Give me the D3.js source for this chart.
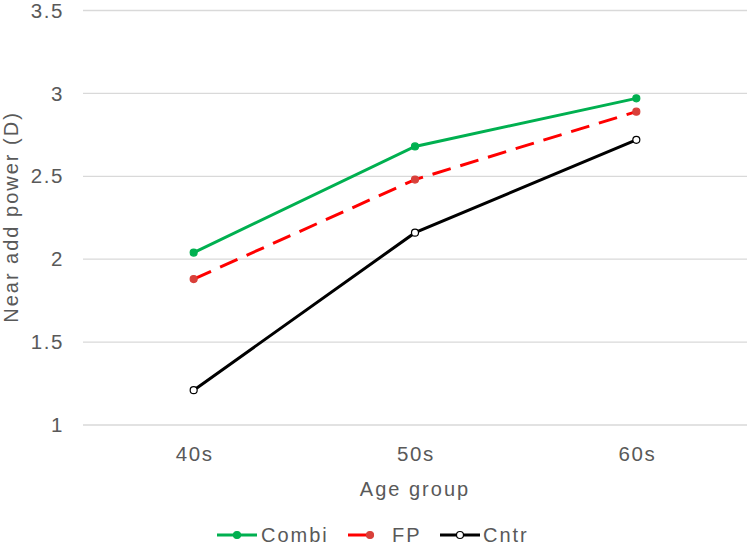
<!DOCTYPE html>
<meta charset="utf-8">
<style>
body { margin: 0; background: #fff; }
svg { font-family: Arial, "Liberation Sans", sans-serif; }
.grid line { stroke: #d9d9d9; stroke-width: 1.3px; }
.tick-label { fill: #595959; font-size: 20.5px; letter-spacing: 1.6px; }
.axis-title { fill: #595959; font-size: 20px; letter-spacing: 2px; }
.legend text { fill: #595959; font-size: 20px; letter-spacing: 2px; }
</style>
<body>
<script src="https://d3js.org/d3.v7.min.js"></script>
<script>
    // data
    var ageGroups = ["40s", "50s", "60s"];
    var combi = [2.04, 2.68, 2.97];
    var fp = [1.88, 2.48, 2.89];
    var cntr = [1.21, 2.16, 2.72];
    var yTicks = [1, 1.5, 2, 2.5, 3, 3.5];

    var series = [
        {name: "Combi", values: combi, color: "#00b050", dash: null, dot: "#00b050", dotStroke: "#00b050"},
        {name: "FP", values: fp, color: "#ff0000", dash: "19,10", dot: "#d9403a", dotStroke: "#d9403a"},
        {name: "Cntr", values: cntr, color: "#000000", dash: null, dot: "#ffffff", dotStroke: "#000000"}
    ];

    var width = 750, height = 546;
    var margin = {top: 10.5, right: 3, bottom: 121, left: 83};

    var svg = d3.select("body").append("svg")
        .attr("width", width)
        .attr("height", height);

    var x = d3.scaleBand()
        .domain(ageGroups)
        .range([margin.left, width - margin.right]);

    var y = d3.scaleLinear()
        .domain([1, 3.5])
        .range([height - margin.bottom, margin.top]);

    // gridlines
    svg.append("g").attr("class", "grid")
        .selectAll("line")
        .data(yTicks)
        .enter().append("line")
        .attr("x1", margin.left)
        .attr("x2", width - margin.right)
        .attr("y1", function (d) { return y(d); })
        .attr("y2", function (d) { return y(d); });

    // y tick labels
    svg.append("g")
        .selectAll("text")
        .data(yTicks)
        .enter().append("text")
        .attr("class", "tick-label")
        .attr("x", 64)
        .attr("y", function (d) { return y(d); })
        .attr("dy", "0.35em")
        .attr("text-anchor", "end")
        .text(function (d) { return d; });

    // x tick labels
    svg.append("g")
        .selectAll("text")
        .data(ageGroups)
        .enter().append("text")
        .attr("class", "tick-label")
        .attr("x", function (d) { return x(d) + x.bandwidth() / 2 + 1; })
        .attr("y", 461)
        .attr("text-anchor", "middle")
        .text(function (d) { return d; });

    // axis titles
    svg.append("text")
        .attr("class", "axis-title")
        .attr("x", x(ageGroups[1]) + x.bandwidth() / 2)
        .attr("y", 496)
        .attr("text-anchor", "middle")
        .text("Age group");

    svg.append("text")
        .attr("class", "axis-title")
        .attr("transform", "translate(18," + 217 + ") rotate(-90)")
        .attr("text-anchor", "middle")
        .text("Near add power (D)");

    var line = d3.line()
        .x(function (d, i) { return x(ageGroups[i]) + x.bandwidth() / 2; })
        .y(function (d) { return y(d); });

    var sg = svg.selectAll(".series")
        .data(series)
        .enter().append("g")
        .attr("class", "series");

    sg.append("path")
        .attr("d", function (d) { return line(d.values); })
        .attr("fill", "none")
        .attr("stroke", function (d) { return d.color; })
        .attr("stroke-width", 3)
        .attr("stroke-dasharray", function (d) { return d.dash; });

    sg.selectAll("circle")
        .data(function (d) { return d.values.map(function (v, i) { return {v: v, i: i, s: d}; }); })
        .enter().append("circle")
        .attr("cx", function (d) { return x(ageGroups[d.i]) + x.bandwidth() / 2; })
        .attr("cy", function (d) { return y(d.v); })
        .attr("r", 3.5)
        .attr("fill", function (d) { return d.s.dot; })
        .attr("stroke", function (d) { return d.s.dotStroke; })
        .attr("stroke-width", 1.2);

    // legend
    var legendPos = [
        {x1: 217, x2: 257, cx: 237, tx: 261},
        {x1: 348, x2: 372, cx: 370, tx: 392},
        {x1: 440, x2: 480, cx: 460, tx: 483}
    ];
    var legend = svg.append("g").attr("class", "legend")
        .selectAll("g")
        .data(series)
        .enter().append("g");

    legend.append("line")
        .attr("x1", function (d, i) { return legendPos[i].x1; })
        .attr("x2", function (d, i) { return legendPos[i].x2; })
        .attr("y1", 535).attr("y2", 535)
        .attr("stroke", function (d) { return d.color; })
        .attr("stroke-width", 3);

    legend.append("circle")
        .attr("cx", function (d, i) { return legendPos[i].cx; })
        .attr("cy", 535)
        .attr("r", 3.5)
        .attr("fill", function (d) { return d.dot; })
        .attr("stroke", function (d) { return d.dotStroke; })
        .attr("stroke-width", 1.2);

    legend.append("text")
        .attr("x", function (d, i) { return legendPos[i].tx; })
        .attr("y", 535)
        .attr("dy", "0.35em")
        .text(function (d) { return d.name; });
</script>
</body>
